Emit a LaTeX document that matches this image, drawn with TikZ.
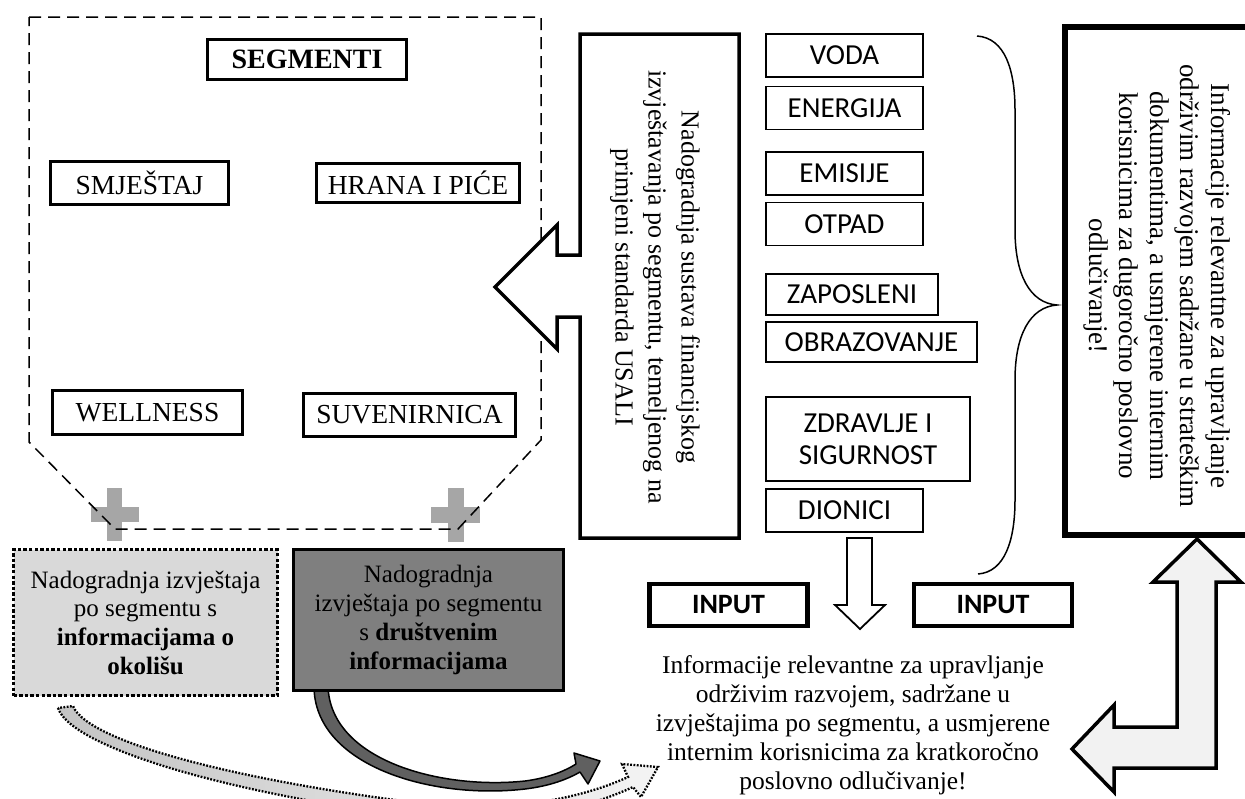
\documentclass[tikz,border=0pt]{standalone}
\usepackage{fontspec}
\setmainfont{Liberation Serif}
\newfontfamily\calibrifont{Carlito}
\definecolor{plusgray}{HTML}{A6A6A6}
\definecolor{lightfill}{HTML}{D9D9D9}
\definecolor{darkfill}{HTML}{7F7F7F}
\definecolor{larrowfill}{HTML}{F2F2F2}
\definecolor{arrowdark}{HTML}{606060}
\definecolor{arrowlightA}{HTML}{C4C4C4}
\definecolor{arrowlightB}{HTML}{F4F4F4}
\tikzset{
  segbox/.style={draw, line width=3pt, inner sep=0pt, fill=white,
    font=\fontsize{27.5}{30}\selectfont},
  catbox/.style={draw, line width=1.6pt, inner sep=0pt, fill=white,
    font=\calibrifont\fontsize{29}{32}\selectfont, minimum width=157pt, minimum height=43pt},
  inputbox/.style={draw, line width=4.2pt, inner sep=0pt, fill=white,
    font=\calibrifont\bfseries\fontsize{28}{30}\selectfont, minimum width=158pt, minimum height=42pt},
  bigtext/.style={align=center, inner sep=0pt},
  outl/.style={line width=3.5pt, line join=miter, miter limit=4},
}
\begin{document}
\begin{tikzpicture}[x=1pt,y=-1pt]
\useasboundingbox (0,0) rectangle (1245,798);
\clip (0,0) rectangle (1245,798);

% plus signs
\fill[plusgray] (107,488) rectangle (122,541);
\fill[plusgray] (91,507) rectangle (139,522);
\fill[plusgray] (448,488) rectangle (464,542);
\fill[plusgray] (431,507) rectangle (480,523);

% dashed outline of the segment area
\draw[line width=1.5pt, dash pattern=on 12pt off 7pt]
  (29,17) -- (541,17) -- (541,440) -- (458,529) -- (115,529) -- (29,442) -- cycle;

% segment boxes
\node[segbox, font=\bfseries\fontsize{28}{30}\selectfont, minimum width=199pt, minimum height=40pt] (seg) at (307,59.5) {SEGMENTI};
\node[segbox, minimum width=178pt, minimum height=43pt] (smj) at (139.5,183) {SMJEŠTAJ};
\node[segbox, minimum width=203pt, minimum height=39pt] (hrana) at (418,183) {HRANA I PIĆE};
\node[segbox, minimum width=190pt, minimum height=44pt] (well) at (147.5,412.5) {WELLNESS};
\node[segbox, minimum width=212pt, minimum height=43pt] (suv) at (409.5,415) {SUVENIRNICA};

% big left arrow joined to the USALI box
\draw[outl, fill=white]
  (580,34) -- (580,255) -- (557,255) -- (557,225) -- (495,287) -- (557,349)
  -- (557,317) -- (580,317) -- (580,538) -- (739,538) -- (739,34) -- cycle;
\node[bigtext, rotate=-90, font=\fontsize{26}{33}\selectfont] (usali) at (655,287)
  {Nadogradnja sustava financijskog\\izvještavanja po segmentu, temeljenog na\\primjeni standarda USALI};

% category boxes
\node[catbox] (voda) at (844.5,55.5) {VODA};
\node[catbox] (energ) at (844.5,108) {ENERGIJA};
\node[catbox] (emis) at (844.5,173.5) {EMISIJE};
\node[catbox] (otpad) at (844.5,224) {OTPAD};
\node[catbox, minimum width=172pt, minimum height=41pt] (zapos) at (852,294.5) {ZAPOSLENI};
\node[catbox, minimum width=211pt, minimum height=40pt] (obraz) at (871.5,342) {OBRAZOVANJE};
\node[catbox, minimum width=204pt, minimum height=84pt, align=center] (zdrav) at (868,439) {ZDRAVLJE I\\SIGURNOST};
\node[catbox] (dion) at (844.5,510.5) {DIONICI};

% brace
\draw[line width=1.5pt]
  (977,36) .. controls (1005,38) and (1015,70) .. (1015,110) -- (1015,230)
  .. controls (1015,275) and (1030,303) .. (1057,305)
  .. controls (1030,307) and (1015,335) .. (1015,380) -- (1015,500)
  .. controls (1015,540) and (1005,572) .. (978,574);

% right strategic box
\draw[line width=6pt, fill=white] (1065,27) rectangle (1258,535);
\node[bigtext, rotate=-90, font=\fontsize{27}{30.5}\selectfont] (strat) at (1157,286)
  {Informacije relevantne za upravljanje\\održivim razvojem sadržane u strateškim\\dokumentima, a usmjerene internim\\korisnicima za dugoročno poslovno\\odlučivanje!};

% down arrow
\draw[line width=1.8pt, fill=white, line join=miter]
  (847,538) -- (847,605) -- (835,605) -- (860,629) -- (885,605) -- (872,605) -- (872,538) -- cycle;

% input boxes
\node[inputbox] (in1) at (728.5,605) {INPUT};
\node[inputbox] (in2) at (993,605) {INPUT};

% bottom text
\node[bigtext, font=\fontsize{25.5}{29}\selectfont] (short) at (853,725)
  {Informacije relevantne za upravljanje\\održivim razvojem, sadržane u\\izvještajima po segmentu, a usmjerene\\internim korisnicima za kratkoročno\\poslovno odlučivanje!};

% L-shaped arrow
\draw[outl, fill=larrowfill]
  (1197,539) -- (1241,582) -- (1216,582) -- (1216,768) -- (1114,768) -- (1114,792)
  -- (1072,749) -- (1114,705) -- (1114,727) -- (1177,727) -- (1177,582) -- (1153,582) -- cycle;

% curved dark arrow (social)
\draw[line width=1.5pt, fill=arrowdark, line join=round]
  (314,686) .. controls (314,765) and (430,800) .. (525,789)
  .. controls (550,786) and (568,779) .. (580,772) -- (588,784) -- (600,761) -- (574,753) -- (576,764)
  .. controls (565,771) and (548,778) .. (525,781)
  .. controls (440,790) and (330,760) .. (328,686) -- cycle;

% curved light dotted arrow (environment)
\draw[line width=2.3pt, dash pattern=on 1.8pt off 1.5pt, left color=arrowlightA, right color=arrowlightB]
  (58,708) .. controls (72,750) and (250,800) .. (460,822)
  .. controls (545,822) and (605,800) .. (633,787) -- (641,797) -- (658,767) -- (622,764) -- (628,777)
  .. controls (600,790) and (545,808) .. (460,808)
  .. controls (255,785) and (88,744) .. (73,706) -- cycle;

% bottom report boxes
\node[draw, line width=3.4pt, dash pattern=on 3.4pt off 2.2pt, fill=lightfill,
  minimum width=264pt, minimum height=146pt, inner sep=0pt, align=center,
  font=\fontsize{25}{28.7}\selectfont] (env) at (145.5,622.5)
  {Nadogradnja izvještaja\\po segmentu s\\\textbf{informacijama o}\\\textbf{okolišu}};
\node[draw, line width=3.5pt, fill=darkfill,
  minimum width=270pt, minimum height=141pt, inner sep=0pt, align=center,
  font=\fontsize{25}{28.7}\selectfont] (soc) at (428.5,620)
  {Nadogradnja\\izvještaja po segmentu\\s \textbf{društvenim}\\\textbf{informacijama}};
\end{tikzpicture}
\end{document}
